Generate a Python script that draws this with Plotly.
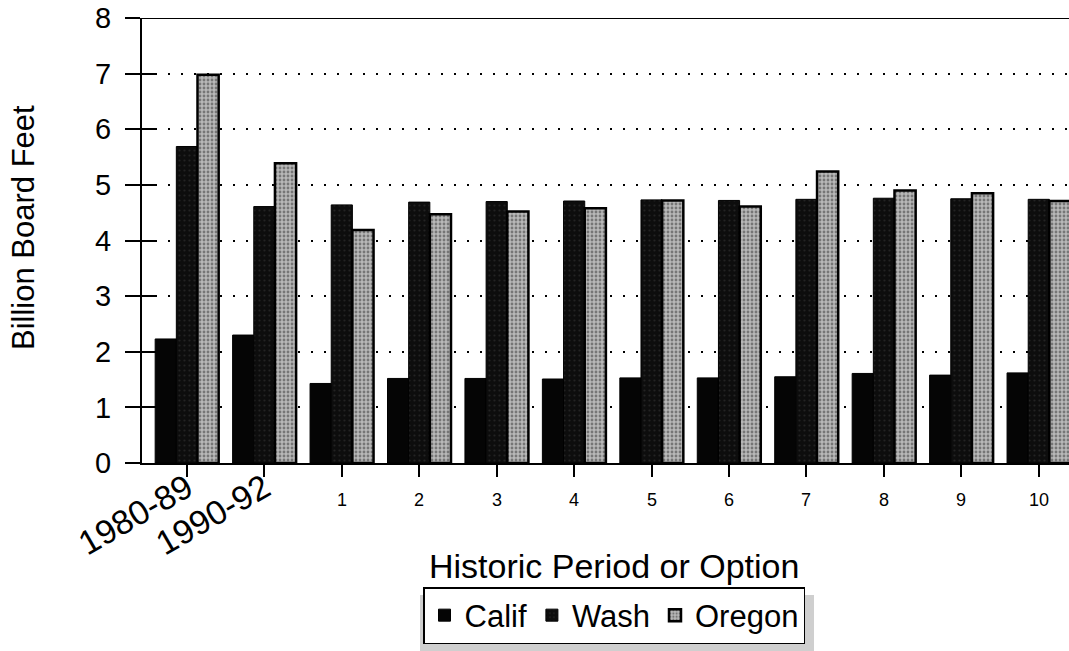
import plotly.graph_objects as go

categories = ["1980-89", "1990-92", "1", "2", "3", "4", "5", "6", "7", "8", "9", "10"]
calif = [2.23, 2.30, 1.43, 1.52, 1.52, 1.51, 1.53, 1.53, 1.55, 1.61, 1.58, 1.62]
wash = [5.69, 4.61, 4.64, 4.69, 4.70, 4.71, 4.73, 4.72, 4.74, 4.76, 4.75, 4.74]
oregon = [6.98, 5.39, 4.19, 4.47, 4.52, 4.58, 4.72, 4.61, 5.24, 4.90, 4.85, 4.71]
y_ticks = [0, 1, 2, 3, 4, 5, 6, 7, 8]

FONT = "Liberation Sans, Arial, sans-serif"

# the page's body margin is removed (post_script), so the figure fills the window
W, H = 1069, 651
L, T, B = 142, 18, 188
PW, PH = W - L, H - T - B  # plot area size in px


def px_x(x):  # screen x -> paper fraction
    return (x - L) / PW


def px_y(y):  # screen y -> paper fraction
    return (H - B - y) / PH


fig = go.Figure()
fig.add_trace(go.Bar(
    name="Calif", x=categories, y=calif,
    marker=dict(color="#050505", line=dict(color="#000", width=1)),
))
fig.add_trace(go.Bar(
    name="Wash", x=categories, y=wash,
    marker=dict(color="#0d0d0d", line=dict(color="#000", width=1),
                pattern=dict(shape=".", fgcolor="#3a3a3a", bgcolor="#0d0d0d", size=5, solidity=0.15)),
))
fig.add_trace(go.Bar(
    name="Oregon", x=categories, y=oregon,
    marker=dict(color="#a0a0a0", line=dict(color="#000", width=2.5),
                pattern=dict(shape=".", fgcolor="#333333", bgcolor="#b8b8b8", size=4, solidity=0.4)),
))
# helper trace so the inward tick overlay axis is drawn
fig.add_trace(go.Scatter(x=[categories[0]], y=[None], yaxis="y2", mode="markers",
                         showlegend=False, hoverinfo="skip"))

# tick labels: rotated for the historic periods, numeric options added below
ticktext = [c if not c.isdigit() else "" for c in categories]

fig.update_layout(
    width=W, height=H,
    margin=dict(l=L, r=0, t=T, b=B, pad=0),
    paper_bgcolor="white", plot_bgcolor="white",
    barmode="group", bargap=0.18, bargroupgap=0.0,
    font=dict(family=FONT, color="black"),
    showlegend=True,
    legend=dict(
        orientation="h", x=px_x(614), xanchor="center", y=px_y(587), yanchor="top",
        bordercolor="black", borderwidth=1.5, bgcolor="white",
        font=dict(size=31, family=FONT), traceorder="normal",
        itemclick=False,
    ),
    xaxis=dict(
        type="category", range=[-0.58, 11.39], automargin=False,
        tickmode="array", tickvals=categories, ticktext=ticktext,
        tickangle=-30, tickfont=dict(size=34, family=FONT),
        ticks="outside", ticklen=12, tickwidth=1.5, tickcolor="black",
        ticklabelstandoff=-22, ticklabeloverflow="allow",
        showline=True, linecolor="black", linewidth=2,
        showgrid=False, zeroline=False,
    ),
    yaxis=dict(
        range=[0, 8], tickmode="array", tickvals=y_ticks, automargin=False,
        tickfont=dict(size=29, family=FONT), ticklabelstandoff=8,
        ticklabeloverflow="allow",
        ticks="outside", ticklen=15, tickwidth=1.5, tickcolor="black",
        showline=True, linecolor="black", linewidth=2,
        showgrid=True, gridcolor="black", griddash="2px,11px", gridwidth=2,
        zeroline=False,
    ),
    yaxis2=dict(
        overlaying="y", side="left", anchor="x", range=[0, 8],
        tickmode="array", tickvals=y_ticks, automargin=False,
        ticks="inside", ticklen=14, tickwidth=1.5, tickcolor="black",
        showticklabels=False, showgrid=False, showline=False, zeroline=False,
    ),
)

# top border line at y = 8
fig.add_shape(type="line", xref="paper", yref="y", x0=0, x1=1, y0=8, y1=8,
              line=dict(color="black", width=2))

# legend drop shadow (below and right of the legend box)
fig.add_shape(type="rect", xref="paper", yref="paper",
              x0=px_x(420), x1=px_x(814), y0=px_y(651), y1=px_y(595),
              fillcolor="#cfcfcf", line=dict(width=0), layer="below")

# numeric option labels under their ticks
for i, c in enumerate(categories):
    if c.isdigit():
        fig.add_annotation(x=i, xref="x", y=px_y(500), yref="paper", text=c,
                           showarrow=False, font=dict(size=18, family=FONT),
                           xanchor="center", yanchor="middle")

# axis titles
fig.add_annotation(x=px_x(614), xref="paper", y=px_y(566), yref="paper",
                   text="Historic Period or Option", showarrow=False,
                   font=dict(size=34, family=FONT), xanchor="center", yanchor="middle")
fig.add_annotation(x=px_x(23), xref="paper", y=px_y(228), yref="paper",
                   text="Billion Board Feet", showarrow=False, textangle=-90,
                   font=dict(size=31, family=FONT), xanchor="center", yanchor="middle")

fig.write_html("out.html", config={"displayModeBar": False},
               post_script="document.body.style.margin='0';document.body.style.overflow='hidden';")
